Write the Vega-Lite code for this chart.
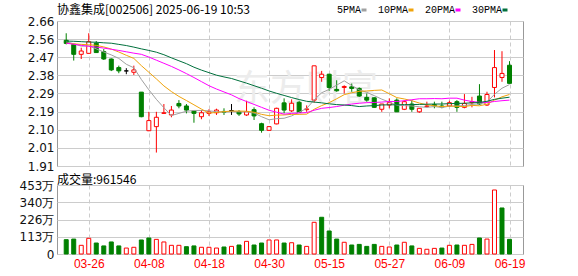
{
  "$schema": "https://vega.github.io/schema/vega-lite/v6.json",
  "padding": {"top": 3, "left": 0, "right": 0, "bottom": 0},
  "background": "white",
  "spacing": 0,
  "datasets": {
    "k": [
      {"i":0,"d":"03-21","o":2.558,"h":2.594,"l":2.537,"c":2.542,"v":940000,"vd":"down","5PMA":2.551,"10PMA":2.543,"20PMA":2.543,"30PMA":2.554},
      {"i":1,"d":"03-24","o":2.537,"h":2.540,"l":2.454,"c":2.486,"v":980000,"vd":"down","5PMA":2.540,"10PMA":2.540,"20PMA":2.538,"30PMA":2.553},
      {"i":2,"d":"03-25","o":2.486,"h":2.520,"l":2.462,"c":2.503,"v":570000,"vd":"up","5PMA":2.528,"10PMA":2.537,"20PMA":2.532,"30PMA":2.551},
      {"i":3,"d":"03-26","o":2.491,"h":2.594,"l":2.490,"c":2.551,"v":1030000,"vd":"up","5PMA":2.530,"10PMA":2.535,"20PMA":2.527,"30PMA":2.549},
      {"i":4,"d":"03-27","o":2.543,"h":2.554,"l":2.493,"c":2.495,"v":720000,"vd":"down","5PMA":2.514,"10PMA":2.532,"20PMA":2.523,"30PMA":2.548},
      {"i":5,"d":"03-28","o":2.500,"h":2.513,"l":2.457,"c":2.462,"v":530000,"vd":"down","5PMA":2.498,"10PMA":2.524,"20PMA":2.518,"30PMA":2.545},
      {"i":6,"d":"03-31","o":2.462,"h":2.465,"l":2.400,"c":2.406,"v":790000,"vd":"down","5PMA":2.483,"10PMA":2.513,"20PMA":2.512,"30PMA":2.543},
      {"i":7,"d":"04-01","o":2.418,"h":2.428,"l":2.389,"c":2.401,"v":530000,"vd":"down","5PMA":2.465,"10PMA":2.498,"20PMA":2.506,"30PMA":2.537},
      {"i":8,"d":"04-02","o":2.401,"h":2.415,"l":2.384,"c":2.401,"v":390000,"vd":"up","5PMA":2.435,"10PMA":2.481,"20PMA":2.499,"30PMA":2.531},
      {"i":9,"d":"04-03","o":2.394,"h":2.428,"l":2.380,"c":2.406,"v":440000,"vd":"up","5PMA":2.417,"10PMA":2.465,"20PMA":2.492,"30PMA":2.523},
      {"i":10,"d":"04-07","o":2.292,"h":2.292,"l":2.163,"c":2.166,"v":920000,"vd":"down","5PMA":2.357,"10PMA":2.428,"20PMA":2.486,"30PMA":2.514},
      {"i":11,"d":"04-08","o":2.094,"h":2.191,"l":2.092,"c":2.146,"v":1050000,"vd":"down","5PMA":2.304,"10PMA":2.394,"20PMA":2.472,"30PMA":2.506},
      {"i":12,"d":"04-09","o":2.115,"h":2.191,"l":1.982,"c":2.163,"v":960000,"vd":"up","5PMA":2.255,"10PMA":2.360,"20PMA":2.456,"30PMA":2.497},
      {"i":13,"d":"04-10","o":2.183,"h":2.231,"l":2.180,"c":2.186,"v":790000,"vd":"up","5PMA":2.212,"10PMA":2.324,"20PMA":2.440,"30PMA":2.484},
      {"i":14,"d":"04-11","o":2.175,"h":2.221,"l":2.163,"c":2.200,"v":570000,"vd":"up","5PMA":2.172,"10PMA":2.295,"20PMA":2.424,"30PMA":2.468},
      {"i":15,"d":"04-14","o":2.234,"h":2.251,"l":2.209,"c":2.221,"v":570000,"vd":"up","5PMA":2.183,"10PMA":2.270,"20PMA":2.406,"30PMA":2.453},
      {"i":16,"d":"04-15","o":2.221,"h":2.231,"l":2.183,"c":2.200,"v":480000,"vd":"down","5PMA":2.194,"10PMA":2.249,"20PMA":2.387,"30PMA":2.438},
      {"i":17,"d":"04-16","o":2.195,"h":2.195,"l":2.135,"c":2.183,"v":530000,"vd":"down","5PMA":2.198,"10PMA":2.227,"20PMA":2.367,"30PMA":2.420},
      {"i":18,"d":"04-17","o":2.166,"h":2.200,"l":2.153,"c":2.186,"v":440000,"vd":"up","5PMA":2.198,"10PMA":2.205,"20PMA":2.346,"30PMA":2.405},
      {"i":19,"d":"04-18","o":2.183,"h":2.204,"l":2.170,"c":2.191,"v":440000,"vd":"up","5PMA":2.196,"10PMA":2.184,"20PMA":2.325,"30PMA":2.392},
      {"i":20,"d":"04-21","o":2.186,"h":2.207,"l":2.175,"c":2.200,"v":390000,"vd":"up","5PMA":2.192,"10PMA":2.188,"20PMA":2.308,"30PMA":2.379},
      {"i":21,"d":"04-22","o":2.193,"h":2.209,"l":2.175,"c":2.189,"v":460000,"vd":"down","5PMA":2.190,"10PMA":2.192,"20PMA":2.293,"30PMA":2.370},
      {"i":22,"d":"04-23","o":2.197,"h":2.231,"l":2.175,"c":2.197,"v":500000,"vd":"up","5PMA":2.193,"10PMA":2.195,"20PMA":2.278,"30PMA":2.362},
      {"i":23,"d":"04-24","o":2.191,"h":2.200,"l":2.170,"c":2.180,"v":590000,"vd":"down","5PMA":2.191,"10PMA":2.195,"20PMA":2.259,"30PMA":2.350},
      {"i":24,"d":"04-25","o":2.175,"h":2.248,"l":2.170,"c":2.191,"v":830000,"vd":"up","5PMA":2.191,"10PMA":2.194,"20PMA":2.244,"30PMA":2.338},
      {"i":25,"d":"04-28","o":2.202,"h":2.214,"l":2.149,"c":2.170,"v":590000,"vd":"down","5PMA":2.185,"10PMA":2.189,"20PMA":2.229,"30PMA":2.325},
      {"i":26,"d":"04-29","o":2.130,"h":2.135,"l":2.084,"c":2.096,"v":720000,"vd":"down","5PMA":2.166,"10PMA":2.178,"20PMA":2.214,"30PMA":2.312},
      {"i":27,"d":"04-30","o":2.096,"h":2.118,"l":2.094,"c":2.115,"v":920000,"vd":"up","5PMA":2.150,"10PMA":2.171,"20PMA":2.199,"30PMA":2.298},
      {"i":28,"d":"05-06","o":2.129,"h":2.212,"l":2.127,"c":2.209,"v":920000,"vd":"up","5PMA":2.156,"10PMA":2.174,"20PMA":2.189,"30PMA":2.286},
      {"i":29,"d":"05-07","o":2.237,"h":2.260,"l":2.183,"c":2.200,"v":720000,"vd":"down","5PMA":2.158,"10PMA":2.175,"20PMA":2.179,"30PMA":2.275},
      {"i":30,"d":"05-08","o":2.196,"h":2.255,"l":2.190,"c":2.235,"v":740000,"vd":"up","5PMA":2.170,"10PMA":2.178,"20PMA":2.183,"30PMA":2.264},
      {"i":31,"d":"05-09","o":2.240,"h":2.248,"l":2.185,"c":2.188,"v":590000,"vd":"down","5PMA":2.189,"10PMA":2.178,"20PMA":2.185,"30PMA":2.254},
      {"i":32,"d":"05-12","o":2.202,"h":2.224,"l":2.191,"c":2.206,"v":500000,"vd":"up","5PMA":2.208,"10PMA":2.179,"20PMA":2.187,"30PMA":2.245},
      {"i":33,"d":"05-13","o":2.251,"h":2.427,"l":2.238,"c":2.427,"v":2080000,"vd":"up","5PMA":2.252,"10PMA":2.204,"20PMA":2.199,"30PMA":2.241},
      {"i":34,"d":"05-14","o":2.367,"h":2.401,"l":2.345,"c":2.384,"v":2410000,"vd":"down","5PMA":2.289,"10PMA":2.223,"20PMA":2.209,"30PMA":2.237},
      {"i":35,"d":"05-15","o":2.384,"h":2.386,"l":2.299,"c":2.316,"v":1510000,"vd":"down","5PMA":2.306,"10PMA":2.238,"20PMA":2.213,"30PMA":2.232},
      {"i":36,"d":"05-16","o":2.306,"h":2.353,"l":2.294,"c":2.299,"v":980000,"vd":"down","5PMA":2.328,"10PMA":2.258,"20PMA":2.218,"30PMA":2.228},
      {"i":37,"d":"05-19","o":2.316,"h":2.327,"l":2.285,"c":2.321,"v":770000,"vd":"up","5PMA":2.350,"10PMA":2.279,"20PMA":2.225,"30PMA":2.226},
      {"i":38,"d":"05-20","o":2.319,"h":2.336,"l":2.294,"c":2.311,"v":590000,"vd":"down","5PMA":2.326,"10PMA":2.289,"20PMA":2.231,"30PMA":2.223},
      {"i":39,"d":"05-21","o":2.311,"h":2.316,"l":2.268,"c":2.272,"v":630000,"vd":"down","5PMA":2.304,"10PMA":2.296,"20PMA":2.235,"30PMA":2.218},
      {"i":40,"d":"05-22","o":2.265,"h":2.285,"l":2.243,"c":2.251,"v":500000,"vd":"down","5PMA":2.291,"10PMA":2.298,"20PMA":2.238,"30PMA":2.221},
      {"i":41,"d":"05-23","o":2.263,"h":2.265,"l":2.212,"c":2.214,"v":630000,"vd":"down","5PMA":2.274,"10PMA":2.301,"20PMA":2.239,"30PMA":2.223},
      {"i":42,"d":"05-26","o":2.204,"h":2.231,"l":2.191,"c":2.231,"v":500000,"vd":"up","5PMA":2.256,"10PMA":2.303,"20PMA":2.241,"30PMA":2.226},
      {"i":43,"d":"05-27","o":2.226,"h":2.260,"l":2.209,"c":2.238,"v":460000,"vd":"up","5PMA":2.241,"10PMA":2.284,"20PMA":2.244,"30PMA":2.227},
      {"i":44,"d":"05-28","o":2.251,"h":2.260,"l":2.190,"c":2.191,"v":590000,"vd":"down","5PMA":2.225,"10PMA":2.264,"20PMA":2.244,"30PMA":2.227},
      {"i":45,"d":"05-29","o":2.204,"h":2.250,"l":2.200,"c":2.243,"v":770000,"vd":"up","5PMA":2.223,"10PMA":2.257,"20PMA":2.248,"30PMA":2.228},
      {"i":46,"d":"05-30","o":2.231,"h":2.251,"l":2.191,"c":2.204,"v":530000,"vd":"down","5PMA":2.221,"10PMA":2.248,"20PMA":2.253,"30PMA":2.228},
      {"i":47,"d":"06-03","o":2.191,"h":2.210,"l":2.186,"c":2.209,"v":370000,"vd":"up","5PMA":2.217,"10PMA":2.236,"20PMA":2.258,"30PMA":2.229},
      {"i":48,"d":"06-04","o":2.218,"h":2.243,"l":2.214,"c":2.221,"v":310000,"vd":"up","5PMA":2.214,"10PMA":2.227,"20PMA":2.258,"30PMA":2.230},
      {"i":49,"d":"06-05","o":2.228,"h":2.243,"l":2.209,"c":2.222,"v":370000,"vd":"up","5PMA":2.218,"10PMA":2.222,"20PMA":2.259,"30PMA":2.231},
      {"i":50,"d":"06-06","o":2.221,"h":2.243,"l":2.209,"c":2.216,"v":390000,"vd":"down","5PMA":2.213,"10PMA":2.218,"20PMA":2.258,"30PMA":2.231},
      {"i":51,"d":"06-09","o":2.221,"h":2.248,"l":2.218,"c":2.238,"v":570000,"vd":"up","5PMA":2.220,"10PMA":2.221,"20PMA":2.261,"30PMA":2.233},
      {"i":52,"d":"06-10","o":2.243,"h":2.251,"l":2.191,"c":2.214,"v":590000,"vd":"down","5PMA":2.221,"10PMA":2.219,"20PMA":2.261,"30PMA":2.234},
      {"i":53,"d":"06-11","o":2.214,"h":2.282,"l":2.209,"c":2.234,"v":570000,"vd":"up","5PMA":2.223,"10PMA":2.218,"20PMA":2.251,"30PMA":2.235},
      {"i":54,"d":"06-12","o":2.238,"h":2.268,"l":2.214,"c":2.243,"v":630000,"vd":"up","5PMA":2.229,"10PMA":2.224,"20PMA":2.244,"30PMA":2.237},
      {"i":55,"d":"06-13","o":2.272,"h":2.333,"l":2.226,"c":2.231,"v":1050000,"vd":"down","5PMA":2.232,"10PMA":2.222,"20PMA":2.240,"30PMA":2.239},
      {"i":56,"d":"06-16","o":2.226,"h":2.294,"l":2.221,"c":2.280,"v":980000,"vd":"up","5PMA":2.240,"10PMA":2.230,"20PMA":2.239,"30PMA":2.245},
      {"i":57,"d":"06-17","o":2.316,"h":2.508,"l":2.265,"c":2.418,"v":4200000,"vd":"up","5PMA":2.281,"10PMA":2.251,"20PMA":2.244,"30PMA":2.255},
      {"i":58,"d":"06-18","o":2.367,"h":2.502,"l":2.345,"c":2.388,"v":3020000,"vd":"down","5PMA":2.312,"10PMA":2.268,"20PMA":2.248,"30PMA":2.261},
      {"i":59,"d":"06-19","o":2.430,"h":2.451,"l":2.337,"c":2.337,"v":961546,"vd":"down","5PMA":2.331,"10PMA":2.280,"20PMA":2.251,"30PMA":2.266}
    ]
  },
  "config": {
    "view": {"stroke": "#999999", "strokeWidth": 1},
    "font": "DejaVu Sans",
    "axis": {"domain": false, "ticks": false, "gridColor": "#cccccc", "gridWidth": 1, "labelColor": "#111111", "title": null, "labelOverlap": false},
    "title": {"fontWeight": "normal", "color": "#000000", "font": "Noto Sans CJK SC", "fontSize": 12, "anchor": "start", "frame": "group"}
  },
  "resolve": {"scale": {"x": "independent", "y": "independent"}},
  "vconcat": [
    {
      "width": 466,
      "height": 145,
      "title": {"text": "协鑫集成[002506] 2025-06-19 10:53", "offset": -2},
      "data": {"name": "k"},
      "encoding": {
        "x": {"field": "i", "type": "quantitative", "scale": {"domain": [-0.56, 60.13], "nice": false, "zero": false},
              "axis": {"values": [3, 11, 19, 27, 35, 43, 51, 59], "tickCount": 20, "labels": false, "grid": true, "gridDash": [4, 3], "minExtent": 0, "maxExtent": 0, "title": null}}
      },
      "layer": [
        {
          "data": {"values": [{"t": "东方财富", "i": 31.9, "l": 2.303}]},
          "mark": {"type": "text", "font": "Noto Sans CJK SC", "fontSize": 36, "color": "#ececec", "baseline": "middle", "align": "center"},
          "encoding": {
            "text": {"field": "t"},
            "y": {"field": "l", "type": "quantitative", "scale": {"domain": [1.913, 2.657], "nice": false, "zero": false},
                  "axis": {"values": [1.913, 2.006, 2.099, 2.192, 2.285, 2.378, 2.471, 2.564, 2.657], "tickCount": 20, "labelExpr": "format(datum.value + 0.0004, '.2f')", "labelOverlap": false, "labelBound": false, "labelFontSize": 12, "labelPadding": 3, "minExtent": 56, "maxExtent": 56, "grid": true, "title": null}}
          }
        },
        {
          "mark": {"type": "rule", "strokeWidth": 1},
          "encoding": {
            "y": {"field": "l", "type": "quantitative"},
            "y2": {"field": "h"},
            "color": {"condition": [{"test": "datum.c > datum.o", "value": "#ff0000"}, {"test": "datum.c < datum.o", "value": "#008000"}], "value": "#000000"}
          }
        },
        {
          "mark": {"type": "bar", "width": 4, "strokeWidth": 1},
          "encoding": {
            "y": {"field": "o", "type": "quantitative"},
            "y2": {"field": "c"},
            "fill": {"condition": [{"test": "datum.c > datum.o", "value": "#ffffff"}, {"test": "datum.c < datum.o", "value": "#008000"}], "value": "#000000"},
            "stroke": {"condition": [{"test": "datum.c > datum.o", "value": "#ff0000"}, {"test": "datum.c < datum.o", "value": "#008000"}], "value": "#000000"}
          }
        },
        {
          "transform": [{"fold": ["5PMA", "10PMA", "20PMA", "30PMA"], "as": ["ma", "val"]}],
          "mark": {"type": "line", "strokeWidth": 1},
          "encoding": {
            "y": {"field": "val", "type": "quantitative"},
            "color": {
              "field": "ma", "type": "nominal",
              "scale": {"domain": ["5PMA", "10PMA", "20PMA", "30PMA"], "range": ["#a0a0a0", "#f0a30a", "#ff00ff", "#00703c"]},
              "legend": {
                "orient": "none", "legendX": 302, "legendY": -16, "direction": "horizontal", "title": null,
                "symbolType": "M-1,0L1,0", "symbolSize": 25, "symbolStrokeWidth": 3,
                "labelFont": "Liberation Mono", "labelFontSize": 10, "labelColor": "#000000",
                "labelAlign": "right", "labelOffset": -8, "columnPadding": 4
              }
            }
          }
        }
      ]
    },
    {
      "width": 466,
      "height": 69,
      "title": {"text": "成交量:961546", "offset": -8},
      "data": {"name": "k"},
      "mark": {"type": "bar", "width": 4, "strokeWidth": 1},
      "encoding": {
        "x": {"field": "i", "type": "quantitative", "scale": {"domain": [-0.56, 60.13], "nice": false, "zero": false},
              "axis": {"values": [3, 11, 19, 27, 35, 43, 51, 59], "labelExpr": "{'3':'03-26','11':'04-08','19':'04-18','27':'04-30','35':'05-15','43':'05-27','51':'06-09','59':'06-19'}[datum.label]", "labelColor": "#ff0000", "labelFont": "Liberation Sans", "labelFontSize": 12, "labelPadding": 4, "grid": true, "gridDash": [4, 3], "title": null}},
        "y": {"field": "v", "type": "quantitative", "scale": {"domain": [0, 4528000], "nice": false},
              "axis": {"values": [0, 1132000, 2264000, 3396000, 4528000], "labelExpr": "datum.value == 0 ? '0' : round(datum.value / 10000) + '万'", "labelOverlap": false, "labelFontSize": 12, "labelPadding": 3, "minExtent": 56, "maxExtent": 56, "grid": true, "title": null}},
        "fill": {"condition": {"test": "datum.vd == 'up'", "value": "#ffffff"}, "value": "#008000"},
        "stroke": {"condition": {"test": "datum.vd == 'up'", "value": "#ff0000"}, "value": "#008000"}
      }
    }
  ]
}
